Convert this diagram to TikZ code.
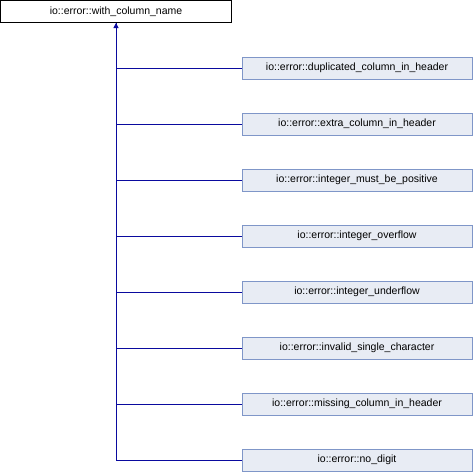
\documentclass[tikz,border=0pt]{standalone}
\usepackage{fontspec}
\setmainfont{Liberation Sans}
\usetikzlibrary{arrows.meta}
\definecolor{edgeblue}{HTML}{0A0A9E}
\definecolor{boxline}{HTML}{7F96C8}
\definecolor{boxfill}{HTML}{E8ECF4}
\begin{document}
\begin{tikzpicture}[x=1pt,y=-1pt,
  basebox/.style={draw=black,fill=white,line width=1pt,minimum width=231pt,
    minimum height=22pt,inner sep=0pt,font=\fontsize{10.5}{12}\selectfont},
  derived/.style={draw=boxline,fill=boxfill,line width=1pt,minimum width=230pt,
    minimum height=22pt,inner sep=0pt,font=\fontsize{10.5}{12}\selectfont},
  inherit/.style={draw=edgeblue,line width=1pt},
  tip/.style={-{Triangle[width=5pt,length=5pt]}}]
\useasboundingbox (0,0) rectangle (474,472);
\node[basebox] (base) at (116,11.5) {io::error::with\_column\_name};
\node[derived] (c1) at (357,68)  {io::error::duplicated\_column\_in\_header};
\node[derived] (c2) at (357,124) {io::error::extra\_column\_in\_header};
\node[derived] (c3) at (357,180) {io::error::integer\_must\_be\_positive};
\node[derived] (c4) at (357,236) {io::error::integer\_overflow};
\node[derived] (c5) at (357,292) {io::error::integer\_underflow};
\node[derived] (c6) at (357,348) {io::error::invalid\_single\_character};
\node[derived] (c7) at (357,404) {io::error::missing\_column\_in\_header};
\node[derived] (c8) at (357,460) {io::error::no\_digit};
% shared trunk up to the base class, with the inheritance arrowhead
\draw[inherit,tip] (c8.west) -| (base.south);
\foreach \c in {c1,c2,c3,c4,c5,c6,c7}
  \draw[inherit] (\c.west) -| (base.south);
\end{tikzpicture}
\end{document}
